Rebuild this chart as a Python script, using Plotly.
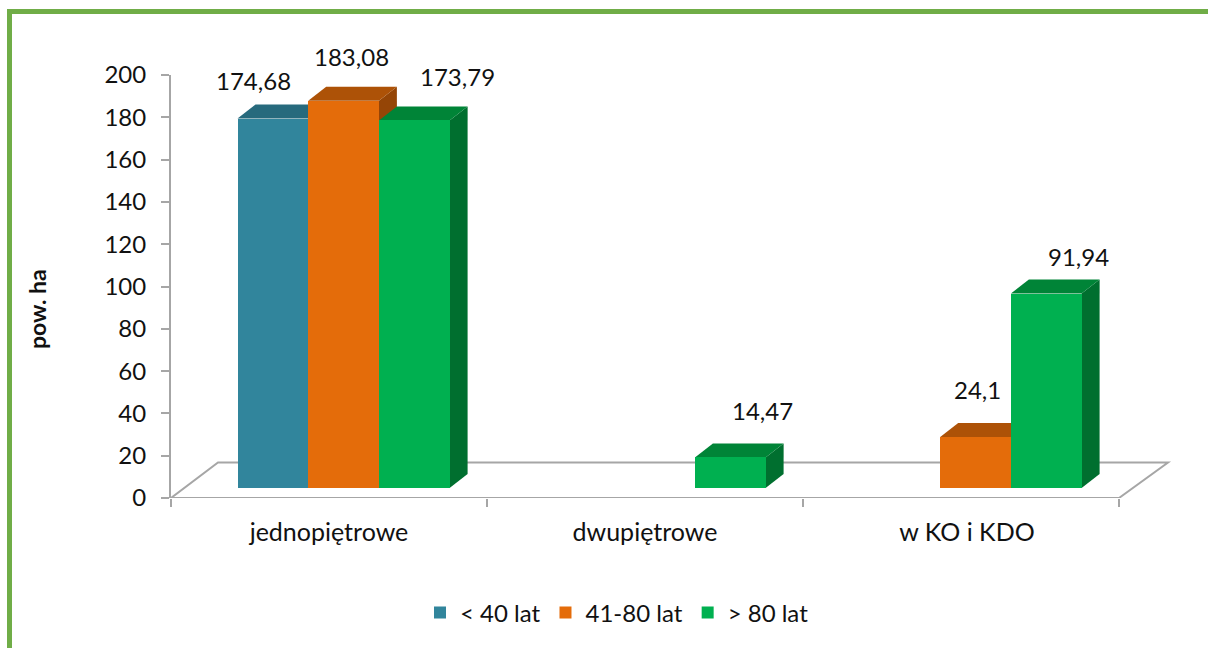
import plotly.graph_objects as go

categories = ["jednopiętrowe", "dwupiętrowe", "w KO i KDO"]
series_names = ["< 40 lat", "41-80 lat", "> 80 lat"]
young = [174.68, None, None]
middle = [183.08, None, 24.1]
old = [173.79, 14.47, 91.94]
series_values = [young, middle, old]
y_ticks = list(range(0, 201, 20))

front_colors = ["#31859C", "#E46C0A", "#00B050"]
top_colors = ["#276A7D", "#AD5207", "#008437"]
side_colors = ["#1F5565", "#954506", "#006F2F"]
axis_color = "#A6A6A6"
frame_color = "#70AD47"
text_color = "#111111"
FONT = "Lato"
FS = 24

# layout in pixels
W, H = 1208, 648
PL, PR, PT, PB = 171, 1175, 75, 498
cat_px = 316.0
unit_px = (PB - PT) / 200.0
xrange_ = [-0.5, -0.5 + (PR - PL) / cat_px]
bar_w = 70.7 / cat_px
first_left = (237.5 - (PL + cat_px / 2)) / cat_px
base = 10 / unit_px
dx, dy = 18 / cat_px, 14 / unit_px
floor_dx_l, floor_dx_r = 47 / cat_px, 49 / cat_px
floor_dy = 35.5 / unit_px

label_shift = {
    (0, 0): (-19, 38), (1, 0): (8, 44), (2, 0): (43, 44),
    (2, 1): (32, 47), (1, 2): (2, 48), (2, 2): (32, 37),
}

fig = go.Figure()

# depth faces (lower subplot)
for s, vals in enumerate(series_values):
    left = first_left + s * bar_w
    for c, v in enumerate(vals):
        if v is None:
            continue
        x0, x1 = c + left, c + left + bar_w
        top = v + base
        fig.add_trace(go.Scatter(
            x=[x1, x1 + dx, x1 + dx, x1, x1], y=[base, base + dy, top + dy, top, base],
            mode="lines", fill="toself", fillcolor=side_colors[s], line=dict(width=0),
            showlegend=False, hoverinfo="skip"))
        fig.add_trace(go.Scatter(
            x=[x0, x0 + dx, x1 + dx, x1, x0], y=[top, top + dy, top + dy, top, top],
            mode="lines", fill="toself", fillcolor=top_colors[s], line=dict(width=0),
            showlegend=False, hoverinfo="skip"))

# front faces (upper overlay subplot)
for s, vals in enumerate(series_values):
    fig.add_trace(go.Bar(
        x=list(range(len(categories))), y=vals, base=base, width=bar_w,
        offset=first_left + s * bar_w, name=series_names[s],
        marker=dict(color=front_colors[s], line=dict(width=0)),
        xaxis="x2", yaxis="y2"))

shapes = [
    dict(type="path", xref="x", yref="y", layer="below",
         path=f"M -0.5 0 L {-0.5 + floor_dx_l} {floor_dy} L {2.5 + floor_dx_r} {floor_dy} L 2.5 0 Z",
         line=dict(color=axis_color, width=2), fillcolor="rgba(0,0,0,0)"),
]
px = lambda p: (p - PL) / (PR - PL)
py = lambda p: (PB - p) / (PB - PT)
# green frame
shapes.append(dict(type="line", xref="paper", yref="paper", layer="below",
                   x0=px(7), x1=px(W), y0=py(11.5), y1=py(11.5),
                   line=dict(color=frame_color, width=5)))
shapes.append(dict(type="line", xref="paper", yref="paper", layer="below",
                   x0=px(9.5), x1=px(9.5), y0=py(9), y1=py(H),
                   line=dict(color=frame_color, width=5)))

annotations = []
for (s, c), (sx, sy) in label_shift.items():
    v = series_values[s][c]
    annotations.append(dict(
        x=c + first_left + (s + 0.5) * bar_w, y=v + base, xref="x", yref="y",
        text=str(v).replace(".", ","), showarrow=False, xshift=sx, yshift=sy,
        font=dict(family=FONT, size=FS, color=text_color)))
annotations.append(dict(
    x=px(37), y=py(309), xref="paper", yref="paper", xanchor="center", yanchor="middle",
    text="<b>pow. ha</b>", textangle=-90,
    showarrow=False, font=dict(family=FONT, size=23, color=text_color)))

fig.update_layout(
    width=W, height=H, autosize=False,
    margin=dict(l=PL, r=W - PR, t=PT, b=H - PB, pad=0),
    paper_bgcolor="white", plot_bgcolor="rgba(0,0,0,0)",
    font=dict(family=FONT, size=FS, color=text_color),
    shapes=shapes, annotations=annotations,
    legend=dict(orientation="h", x=px(617), xanchor="center", y=py(613), yanchor="middle",
                font=dict(family=FONT, size=24, color=text_color), bgcolor="rgba(0,0,0,0)"),
    xaxis=dict(range=xrange_, tickmode="array", tickvals=[0, 1, 2.019], ticktext=categories,
               tickfont=dict(family=FONT, size=25, color=text_color),
               ticks="", showgrid=False, zeroline=False, showline=False, fixedrange=True,
               ticklabelstandoff=17,
               minor=dict(tickmode="array", tickvals=[-0.5, 0.5, 1.5, 2.5], ticks="outside",
                          ticklen=8, tickcolor=axis_color, tickwidth=2, showgrid=False)),
    yaxis=dict(range=[0, 200], tickmode="array", tickvals=y_ticks, ticks="outside", ticklen=8,
               tickcolor=axis_color, tickwidth=2, showline=True, linecolor=axis_color, linewidth=2,
               showgrid=False, zeroline=False, fixedrange=True, ticklabelstandoff=10),
    xaxis2=dict(range=xrange_, overlaying="x", visible=False, fixedrange=True),
    yaxis2=dict(range=[0, 200], overlaying="y", visible=False, fixedrange=True),
    bargap=0,
)

fig.write_html("out.html", config={"displayModeBar": False},
               post_script="document.body.style.margin='0';document.body.style.overflow='hidden';")
